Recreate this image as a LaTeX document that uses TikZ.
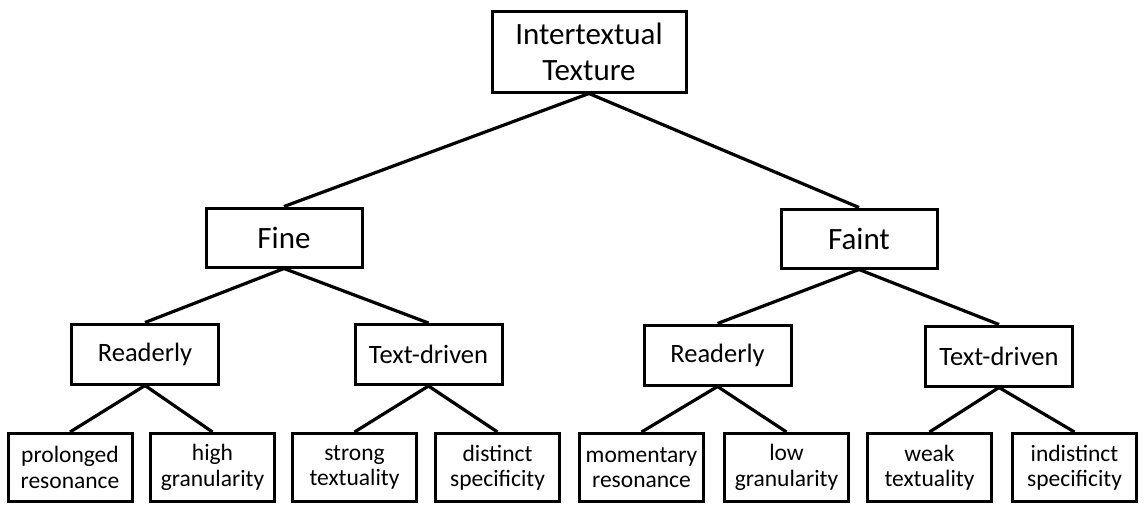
\documentclass[tikz,border=0pt]{standalone}
\usepackage{fontspec}
\setmainfont{Carlito}
\begin{document}
\begin{tikzpicture}[x=1pt,y=-1pt,
  box/.style={draw=black, line width=3pt, inner sep=0pt, align=center},
  toplevel/.style={box, minimum width=194pt, minimum height=81pt, font=\fontsize{31}{36}\selectfont},
  midlevel/.style={box, minimum width=156pt, minimum height=59pt, font=\fontsize{31}{36}\selectfont},
  sublevel/.style={box, minimum width=147pt, minimum height=60pt, font=\fontsize{26.5}{30}\selectfont},
  leaf/.style={box, minimum width=124pt, minimum height=68pt, font=\fontsize{23.5}{25.5}\selectfont},
  link/.style={line width=3.2pt}]
\useasboundingbox (0,0) rectangle (1146,504);

% root
\node[toplevel] (root) at (589,51.5) {Intertextual\\Texture};

% second level
\node[midlevel] (fine)  at (284,237.5) {Fine};
\node[midlevel] (faint) at (859,238.5) {Faint};

% third level
\node[sublevel] (lread) at (145,354)   {Readerly};
\node[sublevel] (ltext) at (428.5,354.5) {Text-driven};
\node[sublevel] (rread) at (717.5,355) {Readerly};
\node[sublevel] (rtext) at (999,356)   {Text-driven};

% leaves
\node[leaf] (prol)  at (70,467.5)    {prolonged\\resonance};
\node[leaf] (high)  at (212.5,467.5) {high\\granularity};
\node[leaf] (strong) at (354.5,467.5) {strong\\textuality};
\node[leaf] (dist)  at (497.5,467.5) {distinct\\specificity};
\node[leaf] (mom)   at (641.5,467.5) {momentary\\resonance};
\node[leaf] (low)   at (786.5,467.5) {low\\granularity};
\node[leaf] (weak)  at (929.5,467.5) {weak\\textuality};
\node[leaf] (indist) at (1074.5,467.5) {indistinct\\specificity};

% connectors
\draw[link] (root.south) -- (fine.north);
\draw[link] (root.south) -- (faint.north);
\draw[link] (fine.south) -- (lread.north);
\draw[link] (fine.south) -- (ltext.north);
\draw[link] (faint.south) -- (rread.north);
\draw[link] (faint.south) -- (rtext.north);
\draw[link] (lread.south) -- (prol.north);
\draw[link] (lread.south) -- (high.north);
\draw[link] (ltext.south) -- (strong.north);
\draw[link] (ltext.south) -- (dist.north);
\draw[link] (rread.south) -- (mom.north);
\draw[link] (rread.south) -- (low.north);
\draw[link] (rtext.south) -- (weak.north);
\draw[link] (rtext.south) -- (indist.north);
\end{tikzpicture}
\end{document}
